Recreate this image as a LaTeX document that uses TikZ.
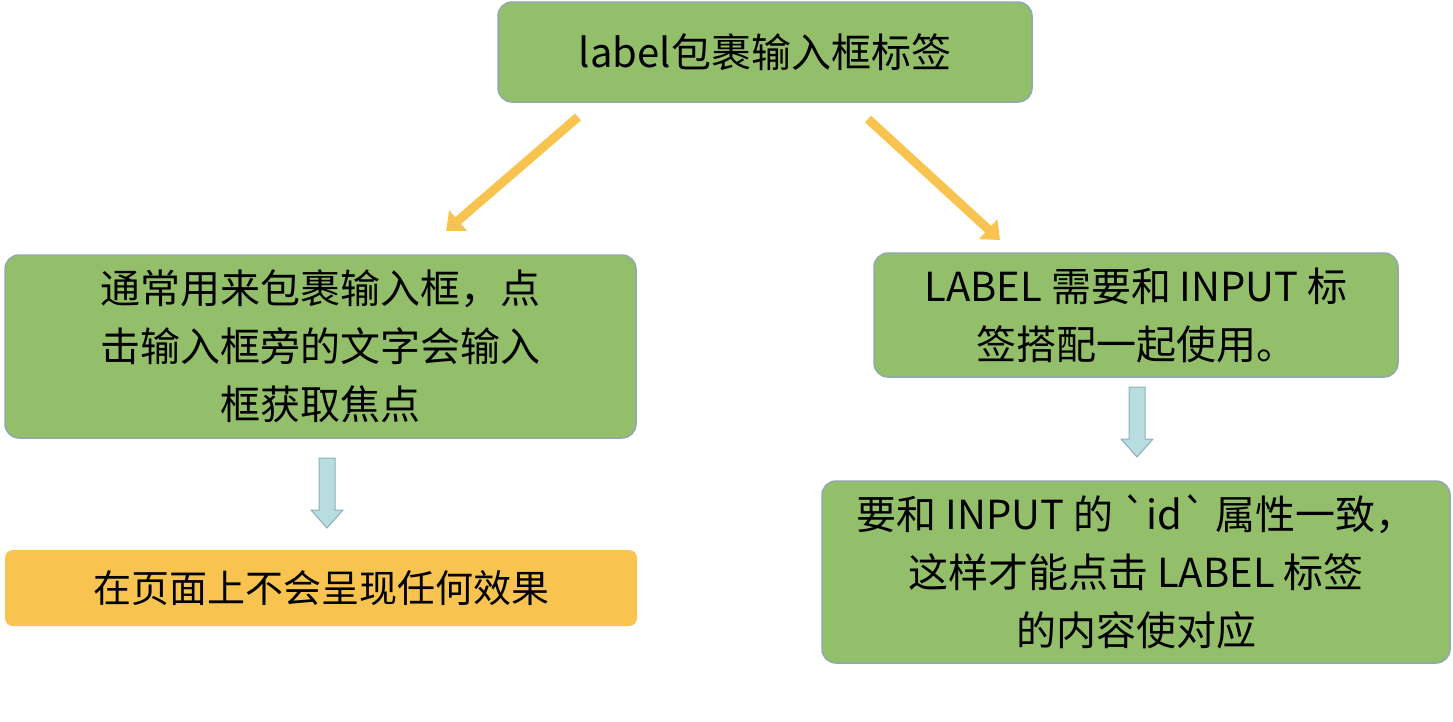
\documentclass[tikz,border=0pt]{standalone}
\usepackage{fontspec}
\newfontfamily\cjk{Noto Sans CJK SC}
\usetikzlibrary{positioning,calc,arrows.meta}
\definecolor{boxgreen}{HTML}{93BF6A}
\definecolor{boxedge}{HTML}{8FA9AE}
\definecolor{boxorange}{HTML}{F8C44F}
\definecolor{arrowblue}{HTML}{B7DDE0}
\definecolor{arrowedge}{HTML}{8DB0B3}
\tikzset{
  greenbox/.style={draw=boxedge, line width=1.5pt, fill=boxgreen, rounded corners=14pt,
    font=\cjk\fontsize{40}{58}\selectfont, align=center, inner sep=0pt},
  orangebox/.style={fill=boxorange, rounded corners=8pt,
    font=\cjk\fontsize{38}{44}\selectfont, align=center, inner sep=0pt},
  yarrow/.style={draw=boxorange, line width=9pt, -{Triangle[length=16pt,width=26pt]}},
}
\newcommand{\downblock}[3]{% x, ytop, ybottom
  \draw[fill=arrowblue, draw=arrowedge, line width=1pt]
    (#1-8,#2) -- (#1+8,#2) -- (#1+8,#3-18) -- (#1+16,#3-18) -- (#1,#3)
    -- (#1-16,#3-18) -- (#1-8,#3-18) -- cycle;}
\begin{document}
\begin{tikzpicture}[x=1pt,y=-1pt]
\useasboundingbox (0,0) rectangle (1453,721);
\node[greenbox, minimum width=534pt, minimum height=100pt] (top) at (765,52) {label包裹输入框标签};
\node[greenbox, minimum width=631pt, minimum height=183pt] (usage) at (320.5,346.5)
  {通常用来包裹输入框，点\\击输入框旁的文字会输入\\框获取焦点};
\node[greenbox, minimum width=524pt, minimum height=124pt] (pair) at (1136,315)
  {LABEL 需要和 INPUT 标\\签搭配一起使用。};
\node[orangebox, minimum width=632pt, minimum height=76pt] (noeffect) at (321,588)
  {在页面上不会呈现任何效果};
\node[greenbox, minimum width=628pt, minimum height=182pt] (idmatch) at (1136,572)
  {要和 INPUT 的 `id` 属性一致，\\这样才能点击 LABEL 标签\\的内容使对应};
% connectors
\coordinate (la) at (578,117);
\coordinate (lb) at (446,231);
\coordinate (ra) at (868,119);
\coordinate (rb) at (1000,240);
\draw[yarrow] (la) -- (lb);
\draw[yarrow] (ra) -- (rb);
\downblock{327}{458}{528}
\downblock{1137}{387}{457}
\end{tikzpicture}
\end{document}
